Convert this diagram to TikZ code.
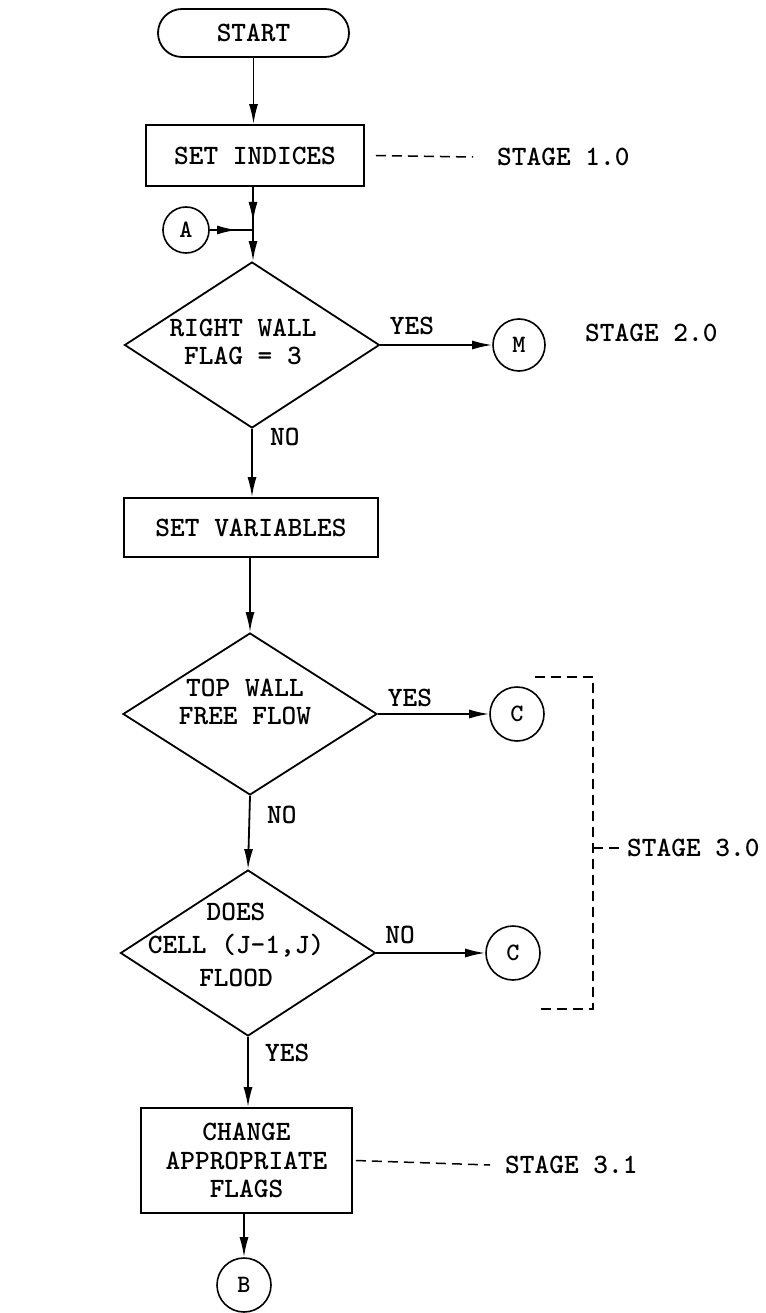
\documentclass[tikz,border=0pt]{standalone}
\usetikzlibrary{arrows.meta,shapes.geometric}
\newcommand\dtext[3]{\makebox[0pt]{\hspace*{#1}\smash{\raisebox{#2}{\begin{tabular}{@{}c@{}}#3\end{tabular}}}}}
\begin{document}
\begin{tikzpicture}[x=1pt,y=-1pt,
  line/.style={line width=1.8pt},
  arr/.style={line width=1.8pt,-{Latex[length=20pt,width=9pt]}},
  box/.style={draw,line width=1.8pt,rectangle,inner sep=0pt,align=center,
    font=\ttfamily\bfseries\fontsize{28pt}{28.5pt}\selectfont},
  dia/.style={draw,line width=1.8pt,diamond,inner sep=0pt},
  conn/.style={draw,line width=1.6pt,circle,inner sep=0pt,minimum size=54pt,
    font=\ttfamily\bfseries\fontsize{25pt}{26pt}\selectfont},
  txt/.style={font=\ttfamily\bfseries\fontsize{28pt}{28pt}\selectfont,inner sep=0pt},
  stagedash/.style={line width=1.5pt,dash pattern=on 10pt off 6pt}
]
\fill[white] (0,0) rectangle (765,1313);
\useasboundingbox (0,0) rectangle (765,1313);

% main boxes
\node[box, rounded corners=24pt, minimum width=191pt, minimum height=48pt] (start) at (253.5,33) {START};
\node[box, minimum width=218pt, minimum height=61pt] (setind) at (255,155.5) {SET INDICES};
\node[box, minimum width=254pt, minimum height=59pt] (setvar) at (251,527.5) {SET VARIABLES};
\node[box, minimum width=211pt, minimum height=105pt] (chg) at (246.5,1160.5) {CHANGE\\APPROPRIATE\\FLAGS};

% diamonds
\node[dia, minimum width=255pt, minimum height=166pt,
  font=\ttfamily\bfseries\fontsize{28pt}{28pt}\selectfont] (d1) at (252,345)
  {\dtext{-18pt}{-6pt}{RIGHT WALL\\FLAG = 3}};
\node[dia, minimum width=254pt, minimum height=162pt,
  font=\ttfamily\bfseries\fontsize{28pt}{28pt}\selectfont] (d2) at (250,714)
  {\dtext{-10pt}{3pt}{TOP WALL\\FREE FLOW}};
\node[dia, minimum width=255pt, minimum height=166pt,
  font=\ttfamily\bfseries\fontsize{28pt}{33pt}\selectfont] (d3) at (248,953)
  {\dtext{-24pt}{0pt}{DOES\\CELL (J-1,J)\\FLOOD}};

% connectors (circles)
\node[conn, minimum size=46pt] (A) at (186,230) {A};
\node[conn, minimum size=52pt] (M) at (519,345) {M};
\node[conn] (C1) at (517,714) {C};
\node[conn] (C2) at (513,953) {C};
\node[conn] (B) at (244,1285) {B};

% flow
\coordinate (j) at (253,230);
\draw[arr] (start.south) -- (start.south |- setind.north);
\draw[line] (setind.south -| j) -- (j);
\draw[arr, shorten >=8pt] (setind.south -| j) -- (j);
\draw[line] (A.east) -- (j);
\draw[arr, shorten >=16pt] (A.east) -- (j);
\draw[arr] (j) -- (j |- d1.north);
\draw[arr] (d1.east) -- (d1.east -| M.west);
\draw[arr] (d1.south) -- (d1.south |- setvar.north);
\draw[arr] (setvar.south -| d2.north) -- (d2.north);
\draw[arr] (d2.east) -- (d2.east -| C1.west);
\draw[arr] (d2.south) -- (d3.north);
\draw[arr] (d3.east) -- (d3.east -| C2.west);
\draw[arr] (d3.south) -- (d3.south |- chg.north);
\draw[arr] (chg.south -| B) -- (B.north);

% branch labels
\node[txt] (yes1) at (412,326) {YES};
\node[txt, anchor=west] (no1) at (270,437) {NO};
\node[txt] (yes2) at (410,698) {YES};
\node[txt, anchor=west] (no2) at (267,815) {NO};
\node[txt] (no3) at (400,935) {NO};
\node[txt, anchor=west] (yes3) at (265,1053) {YES};

% stage annotations
\node[txt, anchor=west] (s1) at (497,157) {STAGE 1.0};
\draw[stagedash] ([xshift=11pt]setind.east) -- ([xshift=-24pt]s1.west);
\node[txt, anchor=west] (s2) at (585,333) {STAGE 2.0};
\node[txt, anchor=west] (s3) at (627,848) {STAGE 3.0};
\coordinate (b1) at (535,677);
\coordinate (b2) at (593,677);
\coordinate (b3) at (593,1009);
\coordinate (b4) at (537,1009);
\coordinate (bt) at (593,848);
\draw[stagedash] (b1) -- (b2) -- (b3) -- (b4);
\draw[stagedash] (bt) -- ([xshift=-5pt]s3.west);
\node[txt, anchor=west] (s31) at (505,1165) {STAGE 3.1};
\draw[stagedash] ([xshift=3pt]chg.east) -- ([xshift=-15pt]s31.west);
\end{tikzpicture}
\end{document}
